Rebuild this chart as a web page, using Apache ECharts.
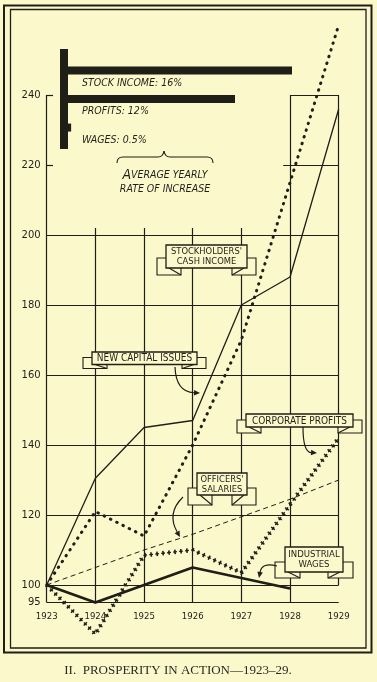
<!DOCTYPE html>
<html><head><meta charset="utf-8">
<script src="https://cdn.jsdelivr.net/npm/echarts@6/dist/echarts.min.js"></script>
<style>html,body{margin:0;padding:0;background:#fbf9cc;}#c{width:377px;height:682px;}</style>
</head><body><div id="c"></div>
<script>
// ---------- data ----------
const years = [1923, 1924, 1925, 1926, 1927, 1928, 1929];
const stockholdersCashIncome = [100, 130.5, 145, 147, 180, 188, 236];
const newCapitalIssues = [100, 121, 114, 140, 170, 215, 260];
const corporateProfits = [100, 86, 108.5, 110, 103.5, 123, 142];
const officersSalaries = [100, 105, 110, 114.5, 119.5, 124.5, 130];
const industrialWages = [100, 95, 100, 105, 102, 99]; // 1923-1928
const yTickLabels = [95, 100, 120, 140, 160, 180, 200, 220, 240];
const fullGridRows = [100, 120, 140, 160, 180, 200];
const rateCategories = ['STOCK INCOME', 'PROFITS', 'WAGES'];
const rateValues = [16, 12, 0.5];
const caption = 'II.  PROSPERITY IN ACTION\u20141923\u201329.';

// ---------- styling ----------
const ink = '#1f1e17';
const bg = '#fbf9cc';
const HAND = '"DejaVu Sans Condensed", "DejaVu Sans", sans-serif';

const pairs = vals => vals.map((v, i) => [years[i], v]);
const seg = (x1, y1, x2, y2) => [{coord: [x1, y1]}, {coord: [x2, y2]}];

const gridSegs = [];
fullGridRows.forEach(v => gridSegs.push(seg(1923, v, 1929, v)));
gridSegs.push(seg(1923, 95, 1929, 95));
gridSegs.push(seg(1927.86, 220, 1929, 220));
gridSegs.push(seg(1928, 240, 1929, 240));
gridSegs.push(seg(1923, 220, 1923.13, 220));
gridSegs.push(seg(1923, 240, 1923.13, 240));
gridSegs.push(seg(1923, 95, 1923, 240));
[1924, 1925, 1926, 1927].forEach(x => gridSegs.push(seg(x, 95, x, 202)));
gridSegs.push(seg(1928, 95, 1928, 240));
gridSegs.push(seg(1929, 100, 1929, 240));

// rate bar chart categories with spacer rows
const rateAxisCats = [' '];
const rateData = ['-'];
rateCategories.forEach((c, i) => {
  rateAxisCats.push(c); rateData.push(rateValues[i]);
  rateAxisCats.push(' '.repeat(i + 2)); rateData.push('-');
});

// ---------- annotation helpers ----------
let zc = 100;
function banner(x0, y0, x1, y1, lines, out, up, drop, fs) {
  const fy0 = y1 - up, fy1 = y1 + drop;
  const st = {fill: bg, stroke: ink, lineWidth: 1.1};
  const els = [
    {type: 'rect', z: zc, shape: {x: x0 - out, y: fy0, width: out + 15, height: fy1 - fy0}, style: st},
    {type: 'rect', z: zc, shape: {x: x1 - 15, y: fy0, width: out + 15, height: fy1 - fy0}, style: st},
    {type: 'line', z: zc + 1, shape: {x1: x0 + 3, y1: y1, x2: x0 + 15, y2: fy1}, style: {stroke: ink, lineWidth: 1.1}},
    {type: 'line', z: zc + 1, shape: {x1: x1 - 3, y1: y1, x2: x1 - 15, y2: fy1}, style: {stroke: ink, lineWidth: 1.1}},
    {type: 'rect', z: zc + 2, shape: {x: x0, y: y0, width: x1 - x0, height: y1 - y0}, style: {fill: bg, stroke: ink, lineWidth: 1.3}},
    {type: 'text', z: zc + 3, x: (x0 + x1) / 2, y: (y0 + y1) / 2 + 0.5,
      style: {text: lines.join('\n'), fontSize: fs, fontFamily: HAND, fill: ink, align: 'center', verticalAlign: 'middle', lineHeight: 10}}
  ];
  zc += 5;
  return els;
}
function arrow(x1, y1, cx, cy, x2, y2) {
  const a = Math.atan2(y2 - cy, x2 - cx);
  const L = 6, W = 2.8;
  const bx = x2 - L * Math.cos(a), by = y2 - L * Math.sin(a);
  const px = -Math.sin(a) * W, py = Math.cos(a) * W;
  return [
    {type: 'bezierCurve', z: 130, shape: {x1: x1, y1: y1, x2: bx, y2: by, cpx1: cx, cpy1: cy}, style: {stroke: ink, fill: 'none', lineWidth: 1.2}},
    {type: 'polygon', z: 130, shape: {points: [[x2, y2], [bx + px, by + py], [bx - px, by - py]]}, style: {fill: ink}}
  ];
}
function curve(x1, y1, cx, cy, x2, y2) {
  return {type: 'bezierCurve', z: 90, shape: {x1: x1, y1: y1, x2: x2, y2: y2, cpx1: cx, cpy1: cy}, style: {stroke: ink, fill: 'none', lineWidth: 1.1}};
}
function straight(x1, y1, x2, y2) {
  return {type: 'line', z: 90, shape: {x1: x1, y1: y1, x2: x2, y2: y2}, style: {stroke: ink, lineWidth: 1.1}};
}

const graphics = [].concat(
  [
    {type: 'rect', z: 90, shape: {x: 4, y: 5.5, width: 367.5, height: 647}, style: {fill: 'none', stroke: ink, lineWidth: 2}},
    {type: 'rect', z: 90, shape: {x: 10.5, y: 9.5, width: 355.5, height: 638.5}, style: {fill: 'none', stroke: ink, lineWidth: 1.3}},
    {type: 'text', z: 90, x: 178, y: 671, style: {text: caption, fontSize: 13, fontFamily: '"Liberation Serif", serif', fill: '#2a2a22', align: 'center', verticalAlign: 'middle'}},
    curve(117, 163, 117, 157, 123, 157),
    straight(123, 157, 158, 157),
    curve(158, 157, 163, 157, 164, 151),
    curve(164, 151, 165, 157, 170, 157),
    straight(170, 157, 207, 157),
    curve(207, 157, 213, 157, 213, 163),
    {type: 'text', z: 90, x: 165, y: 182,
      style: {text: '{b|A}{s|VERAGE YEARLY}\n{s|RATE OF INCREASE}', align: 'center', verticalAlign: 'middle', fill: ink,
        rich: {b: {fontSize: 14, fontStyle: 'italic', fontFamily: HAND, fill: ink, lineHeight: 14},
               s: {fontSize: 10.5, fontStyle: 'italic', fontFamily: HAND, fill: ink, lineHeight: 13}}}}
  ],
  banner(166, 245, 247, 268, ["STOCKHOLDERS'", 'CASH INCOME'], 9, 10, 7, 9.3),
  banner(92, 352, 197, 364.5, ['NEW CAPITAL ISSUES'], 9, 7, 4, 10),
  banner(246, 414, 353, 427, ['CORPORATE PROFITS'], 9, 7, 6, 10),
  banner(197, 473, 247, 495, ["OFFICERS'", 'SALARIES'], 9, 7, 10, 9.3),
  banner(285, 547, 343, 572, ['INDUSTRIAL', 'WAGES'], 10, 10, 6, 9.5),
  arrow(175, 367, 176, 392, 200, 393),
  arrow(183, 497, 166.5, 513, 180, 537),
  arrow(303, 427, 303, 452, 317, 453),
  arrow(277, 566, 262, 562, 259, 578)
);

const lineBase = {type: 'line', xAxisIndex: 0, yAxisIndex: 0, showSymbol: false, symbol: 'none', silent: true, z: 3, clip: false};

const option = {
  backgroundColor: bg,
  animation: false,
  grid: [
    {left: 46.7, right: 38.3, top: 7.5, bottom: 79.5},
    {left: 64, width: 228, top: 49, height: 100}
  ],
  xAxis: [
    {type: 'value', gridIndex: 0, min: 1923, max: 1929, interval: 1,
      axisLine: {show: false}, axisTick: {show: false}, splitLine: {show: false},
      axisLabel: {margin: 9, fontSize: 9.5, fontFamily: HAND, color: ink, formatter: v => String(v)}},
    {type: 'value', gridIndex: 1, min: 0, max: 16, show: false}
  ],
  yAxis: [
    {type: 'value', gridIndex: 0, min: 95, max: 265, interval: 5,
      axisLine: {show: false}, axisTick: {show: false}, splitLine: {show: false},
      axisLabel: {margin: 6, fontSize: 10, fontFamily: '"DejaVu Sans", sans-serif', color: ink, padding: [0, 0, 5, 0],
        formatter: v => yTickLabels.includes(v) ? String(v) : ''}},
    {type: 'category', gridIndex: 1, inverse: true, data: rateAxisCats,
      axisLine: {show: true, lineStyle: {color: ink, width: 8, cap: 'butt'}}, axisTick: {show: false}, axisLabel: {show: false}, splitLine: {show: false}}
  ],
  graphic: graphics,
  series: [
    Object.assign({}, lineBase, {name: 'grid', z: 1, data: [[1923, 100]], lineStyle: {opacity: 0},
      markLine: {silent: true, symbol: ['none', 'none'], label: {show: false}, animation: false,
        lineStyle: {color: ink, width: 1.2, type: 'solid'}, emphasis: {disabled: true}, data: gridSegs}}),
    Object.assign({}, lineBase, {name: "Officers' salaries", data: pairs(officersSalaries),
      lineStyle: {color: ink, width: 1, type: [5, 3.5]}}),
    Object.assign({}, lineBase, {name: 'Corporate profits', data: pairs(corporateProfits),
      lineStyle: {color: ink, width: 4.5, type: [1.6, 4.4]}}),
    Object.assign({}, lineBase, {name: 'Corporate profits (cross)', data: pairs(corporateProfits),
      lineStyle: {color: ink, width: 1.3, type: [3.8, 2.2], dashOffset: 1.1}}),
    Object.assign({}, lineBase, {name: 'New capital issues', data: pairs(newCapitalIssues),
      lineStyle: {color: ink, width: 3, type: [0.5, 6.5], cap: 'round'}}),
    Object.assign({}, lineBase, {name: "Stockholders' cash income", data: pairs(stockholdersCashIncome),
      lineStyle: {color: ink, width: 1.3}}),
    Object.assign({}, lineBase, {name: 'Industrial wages', data: pairs(industrialWages),
      lineStyle: {color: ink, width: 2.8, join: 'round'}}),
    {type: 'bar', name: 'Average yearly rate of increase', xAxisIndex: 1, yAxisIndex: 1, data: rateData,
      barWidth: 8, silent: true, itemStyle: {color: ink},
      label: {show: true, position: [18, 11], fontSize: 10.5, fontStyle: 'italic', fontFamily: HAND, color: ink,
        formatter: p => p.name + ': ' + p.value + '%'}}
  ]
};
const chart = echarts.init(document.getElementById('c'), null, {renderer: 'canvas'});
chart.setOption(option);
</script>
</body></html>
